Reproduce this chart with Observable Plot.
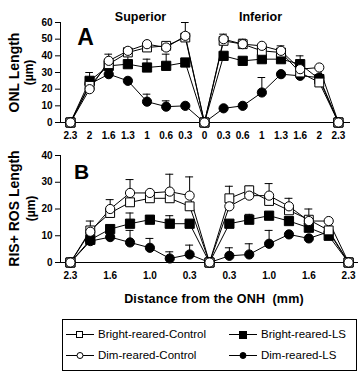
<!DOCTYPE html>
<html><head><meta charset="utf-8">
<script src="https://cdn.jsdelivr.net/npm/d3@7"></script>
<script src="https://cdn.jsdelivr.net/npm/@observablehq/plot@0.6"></script>
<style>
body{margin:0;background:#fff;font-family:"Liberation Sans",Arial,sans-serif;}
#fig{position:relative;width:363px;height:372px;overflow:hidden;background:#fff;}
#fig > *{position:absolute;}
#legend{left:62px;top:319px;width:293px;height:50px;border:1px solid #000;font-size:11.5px;}
#legend .it{position:absolute;display:flex;align-items:center;height:14px;}
#xtitle{left:0;width:428px;top:292px;text-align:center;font-weight:bold;font-size:12.5px;letter-spacing:0.2px;}
</style></head><body><div id="fig"><div id="xtitle">Distance from the ONH&nbsp; (mm)</div><div id="legend"></div></div>
<script>
// ---- categories / tick labels ----
const positions = d3.range(15);
const xLabelsA = ["2.3","2","1.6","1.3","1","0.6","0.3","0","0.3","0.6","1","1.3","1.6","2","2.3"];
const xTicksB = [0,2,4,6,8,10,12,14];
const xLabelsB = ["2.3","1.6","1.0","0.3","0.3","1.0","1.6","2.3"];
const seriesNames = ["Bright-reared-Control","Bright-reared-LS","Dim-reared-Control","Dim-reared-LS"];

// ---- Panel A: ONL length (µm) ----
const brightControlA = [0,22,35,42,45,46,51,0,49,47,43,42,30,24,0];
const brightLSA      = [0,25,34,35,33,34,36,0,40,37,38,38,35,26,0];
const dimControlA    = [0,20,37,43,47,45,52,0,50,47,46,43,32,33,0];
const dimLSA         = [0,23,29,25,12.5,9.5,10,0,8.5,10,18,29,28,27,0];
const brightControlErrA = [0,0,0,0,0,0,0,0,4,0,0,0,0,0,0];
const brightLSErrA      = [0,5,0,5,5,7,0,0,0,0,0,0,5,0,0];
const dimControlErrA    = [0,0,4,2,0,0,8,0,0,3,0,3,0,0,0];
const dimLSErrA         = [0,0,0,0,4.5,3.5,0,0,0,0,9,0,0,0,0];

// ---- Panel B: RIS+ROS length (µm) ----
const brightControlB = [0,12,18.5,22.5,24,24,21,0,24,27,23,19.5,16,12,0];
const brightLSB      = [0,8.5,12.5,14.5,16,14.5,14.5,0,14.5,16,17.5,15.5,13,10,0];
const dimControlB    = [0,11.5,20,26,26,26.5,25,0,21,25,25,21,15.5,15.5,0];
const dimLSB         = [0,8,9.5,7.5,5.5,1.5,3,0,2.5,3,7,10.5,9,11.5,0];
const brightControlErrB = [0,3.5,5,0,0,0,0,0,4.5,1.5,0,4.5,4,0,0];
const brightLSErrB      = [0,0,0,4,1.5,3,0,0,0,2,0,0,0,0,0];
const dimControlErrB    = [0,0,0,5,0,6.5,7,0,0,0,4.5,0,0,0,0];
const dimLSErrB         = [0,0,0,4.5,3.5,2.5,3.5,0,3,4,5,0,0,0,0];

const styles = {
  "Bright-reared-Control": {symbol:"square", fill:"white", r:5},
  "Bright-reared-LS":      {symbol:"square", fill:"black", r:5.2},
  "Dim-reared-Control":    {symbol:"circle", fill:"white", r:4.6},
  "Dim-reared-LS":         {symbol:"circle", fill:"black", r:4.6}
};

function table(vals, errs){
  const rows = [];
  seriesNames.forEach((s,i)=>positions.forEach(k=>rows.push({series:s,k,v:vals[i][k],e:errs[i][k]})));
  return rows;
}

function panel(o){
  const rows = table(o.vals, o.errs);
  const errRows = rows.filter(d=>d.e>0);
  const ml = 60, mt = o.marginTop, top = o.top;
  const note = (t, x, y, opt={}) => Plot.text([t], {text:d=>d, frameAnchor:"top-left", dx:x-ml, dy:y-top-mt, lineAnchor:"bottom", textAnchor:"middle", fill:"black", ...opt});
  const marks = [
    Plot.ruleY([0], {x1:o.xDomain[0], x2:o.xDomain[1], stroke:"black"}),
    Plot.ruleX([o.xDomain[0]], {y1:o.yDomain[0], y2:o.yDomain[1], stroke:"black"}),
    Plot.axisY({ticks:o.yTicks, tickSize:5, tickPadding:3, label:null, fontSize:10, fontWeight:"bold"}),
    Plot.axisX({ticks:o.xTicks, tickFormat:o.xFmt, tickSize:0, tickPadding:o.xPad, label:null, fontSize:10, fontWeight:"bold"}),
    Plot.ruleX(errRows, {x:"k", y1:"v", y2:d=>d.v+d.e, stroke:"black", strokeWidth:1}),
    Plot.ruleY(errRows, {y:d=>d.v+d.e, x1:d=>d.k-0.2, x2:d=>d.k+0.2, stroke:"black", strokeWidth:1}),
    Plot.line(rows, {x:"k", y:"v", z:"series", stroke:"black", strokeWidth:1})
  ];
  for (const s of ["Bright-reared-LS","Dim-reared-LS","Bright-reared-Control","Dim-reared-Control"]) {
    const st = styles[s];
    marks.push(Plot.dot(rows.filter(d=>d.series===s), {x:"k", y:"v", symbol:()=>st.symbol, r:st.r, fill:st.fill, stroke:"black", strokeWidth:1}));
  }
  for (const n of o.notes) marks.push(note(...n));
  const svg = Plot.plot({
    width:363, height:o.height, marginLeft:ml, marginRight:o.marginRight, marginTop:mt, marginBottom:o.marginBottom,
    style:{fontFamily:"'Liberation Sans', Arial, sans-serif", color:"black", background:"transparent", overflow:"visible"},
    x:{type:"linear", domain:o.xDomain}, y:{domain:o.yDomain},
    symbol:{type:"identity"},
    marks
  });
  svg.style.left = "0px"; svg.style.top = top + "px";
  return svg;
}

const A = panel({
  top:0,
  vals:[brightControlA, brightLSA, dimControlA, dimLSA],
  errs:[brightControlErrA, brightLSErrA, dimControlErrA, dimLSErrA],
  xDomain:[-0.52, 14.63], yDomain:[0,60], yTicks:[0,10,20,30,40,50,60],
  xTicks:positions, xFmt:d=>xLabelsA[d], xPad:9,
  height:145, marginTop:22, marginBottom:23, marginRight:13,
  notes:[
    ["Superior",140,20,{fontSize:12.5,fontWeight:"bold"}],
    ["Inferior",260,20,{fontSize:12.5,fontWeight:"bold"}],
    ["A",85,44,{fontSize:23,fontWeight:"bold"}],
    ["ONL Length",14,72,{fontSize:14,fontWeight:"bold",rotate:-90,lineAnchor:"middle"}],
    ["(µm)",29,72,{fontSize:12,fontWeight:"bold",rotate:-90,lineAnchor:"middle"}]
  ]
});

const B = panel({
  top:140,
  vals:[brightControlB, brightLSB, dimControlB, dimLSB],
  errs:[brightControlErrB, brightLSErrB, dimControlErrB, dimLSErrB],
  xDomain:[-0.5, 14.5], yDomain:[0,40], yTicks:[0,10,20,30,40],
  xTicks:xTicksB, xFmt:d=>xLabelsB[xTicksB.indexOf(d)], xPad:9,
  height:150, marginTop:15, marginBottom:28, marginRight:5,
  notes:[
    ["B",81,178,{fontSize:21,fontWeight:"bold"}],
    ["RIS+ ROS Length",14,208,{fontSize:14,fontWeight:"bold",rotate:-90,lineAnchor:"middle"}],
    ["(µm)",31,208,{fontSize:12,fontWeight:"bold",rotate:-90,lineAnchor:"middle"}]
  ]
});

const fig = document.getElementById("fig");
fig.insertBefore(B, fig.firstChild);
fig.insertBefore(A, fig.firstChild);

// legend
const legend = document.getElementById("legend");
const legendPos = [[3,7],[166,7],[3,28],[166,28]];
seriesNames.forEach((s,i)=>{
  const st = styles[s];
  const it = document.createElement("div");
  it.className="it"; it.style.left=legendPos[i][0]+"px"; it.style.top=legendPos[i][1]+"px";
  const shape = st.symbol==="square"
    ? `<rect x="10.5" y="4.5" width="${st.fill==="white"?6:7}" height="${st.fill==="white"?6:7}" fill="${st.fill}" stroke="black"/>`
    : `<circle cx="14" cy="7.5" r="3" fill="${st.fill}" stroke="black"/>`;
  it.innerHTML = `<svg width="28" height="14" style="margin-right:4px"><line x1="0" x2="28" y1="7.5" y2="7.5" stroke="black"/>${shape}</svg><span>${s}</span>`;
  legend.appendChild(it);
});
</script></body></html>
